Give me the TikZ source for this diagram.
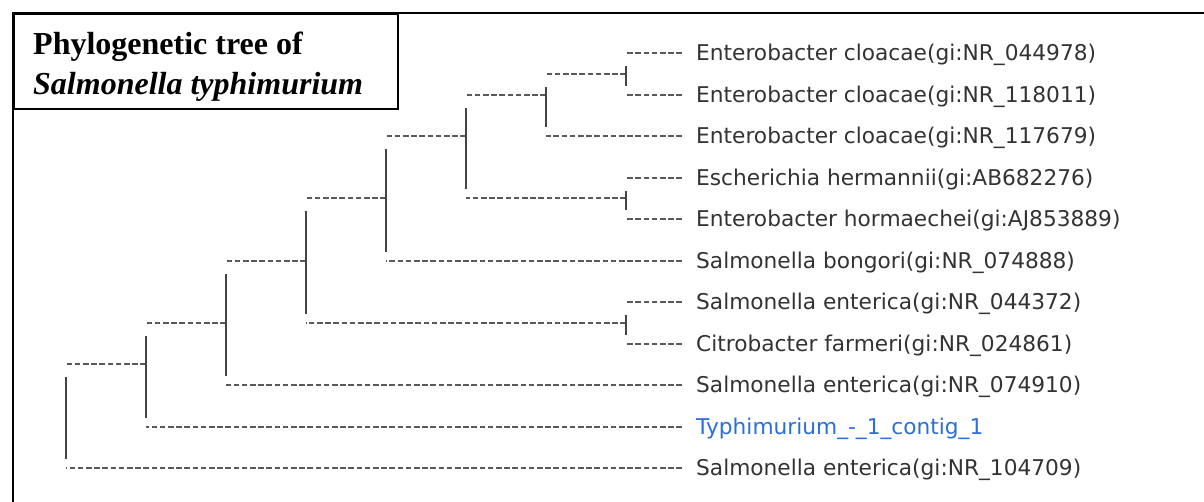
\documentclass[tikz,border=0pt]{standalone}
\usepackage{fontspec}
\setmainfont{Liberation Serif}
\newfontfamily\treefont{DejaVu Sans}
\usetikzlibrary{calc}
\definecolor{txt}{HTML}{333333}
\definecolor{typh}{HTML}{2B6FD8}
\definecolor{brc}{HTML}{5A5A5A}
\definecolor{barc}{HTML}{444444}
\begin{document}
\begin{tikzpicture}[x=1pt,y=-1pt,
  branch/.style={draw=brc, line width=2pt, dash pattern=on 5.6pt off 2.6pt},
  vbar/.style={draw=barc, line width=2pt},
  leaf/.style={anchor=west, inner xsep=14pt, inner ysep=0pt, text height=17.6pt, text depth=2pt,
               font=\treefont\fontsize{21.7}{24}\selectfont, text=txt},
  titletext/.style={anchor=base west, inner sep=0pt, font=\fontsize{32}{38}\selectfont\bfseries},
  frame/.style={draw=black, line width=2pt},
]
\useasboundingbox (0,0) rectangle (1204,502);
\fill[white] (0,0) rectangle (1204,502);

% outer frame and title box
\draw[frame] (13,502) -- (13,13) -- (1204,13);
\node[draw=black, line width=1.6pt, minimum width=384pt, minimum height=95pt, anchor=north west, inner sep=0pt] (tbox) at (13,13) {};
\node[titletext] (t1) at (33,55) {Phylogenetic tree of};
\node[titletext, font=\fontsize{32}{38}\selectfont\bfseries\itshape] (t2) at (33,95) {Salmonella typhimurium};

% leaves
\node[leaf] (l0) at (682,53) {Enterobacter cloacae(gi:NR\_044978)};
\node[leaf] (l1) at (682,95) {Enterobacter cloacae(gi:NR\_118011)};
\node[leaf] (l2) at (682,136) {Enterobacter cloacae(gi:NR\_117679)};
\node[leaf] (l3) at (682,178) {Escherichia hermannii(gi:AB682276)};
\node[leaf] (l4) at (682,219) {Enterobacter hormaechei(gi:AJ853889)};
\node[leaf] (l5) at (682,261) {Salmonella bongori(gi:NR\_074888)};
\node[leaf] (l6) at (682,302) {Salmonella enterica(gi:NR\_044372)};
\node[leaf] (l7) at (682,344) {Citrobacter farmeri(gi:NR\_024861)};
\node[leaf] (l8) at (682,385) {Salmonella enterica(gi:NR\_074910)};
\node[leaf, text=typh] (l9) at (682,427) {Typhimurium\_-\_1\_contig\_1};
\node[leaf] (l10) at (682,468) {Salmonella enterica(gi:NR\_104709)};

% internal nodes
\coordinate (A) at (626,74);
\coordinate (B) at (546,95);
\coordinate (C) at (466,136);
\coordinate (D) at (626,198);
\coordinate (E) at (386,198);
\coordinate (H) at (626,323);
\coordinate (F) at (306,261);
\coordinate (G) at (226,323);
\coordinate (I) at (146,364);
\coordinate (R) at (66,416);

% leaf branches
\draw[branch] (l0.west) -- (A |- l0.west);
\draw[branch] (l1.west) -- (A |- l1.west);
\draw[branch] (l2.west) -- (B |- l2.west);
\draw[branch] (l3.west) -- (D |- l3.west);
\draw[branch] (l4.west) -- (D |- l4.west);
\draw[branch] (l5.west) -- (E |- l5.west);
\draw[branch] (l6.west) -- (H |- l6.west);
\draw[branch] (l7.west) -- (H |- l7.west);
\draw[branch] (l8.west) -- (G |- l8.west);
\draw[branch] (l9.west) -- (I |- l9.west);
\draw[branch] (l10.west) -- (R |- l10.west);

% internal branches
\draw[branch] (A) -- (B |- A);
\draw[branch] (B) -- (C |- B);
\draw[branch] (C) -- (E |- C);
\draw[branch] (D) -- (C |- D);
\draw[branch] (E) -- (F |- E);
\draw[branch] (H) -- (F |- H);
\draw[branch] (F) -- (G |- F);
\draw[branch] (G) -- (I |- G);
\draw[branch] (I) -- (R |- I);

% vertical bars
\draw[vbar] ($(A |- l0.west)+(0,13)$) -- ($(A |- l1.west)+(0,-9)$);
\draw[vbar] ($(B |- A)+(0,13)$) -- ($(B |- l2.west)+(0,-9)$);
\draw[vbar] ($(C |- B)+(0,13)$) -- ($(C |- D)+(0,-9)$);
\draw[vbar] ($(D |- l3.west)+(0,13)$) -- ($(D |- l4.west)+(0,-9)$);
\draw[vbar] ($(E |- C)+(0,13)$) -- ($(E |- l5.west)+(0,-9)$);
\draw[vbar] ($(H |- l6.west)+(0,13)$) -- ($(H |- l7.west)+(0,-9)$);
\draw[vbar] ($(F |- E)+(0,13)$) -- ($(F |- H)+(0,-9)$);
\draw[vbar] ($(G |- F)+(0,13)$) -- ($(G |- l8.west)+(0,-9)$);
\draw[vbar] ($(I |- G)+(0,13)$) -- ($(I |- l9.west)+(0,-9)$);
\draw[vbar] ($(R |- I)+(0,13)$) -- ($(R |- l10.west)+(0,-9)$);
\end{tikzpicture}
\end{document}
